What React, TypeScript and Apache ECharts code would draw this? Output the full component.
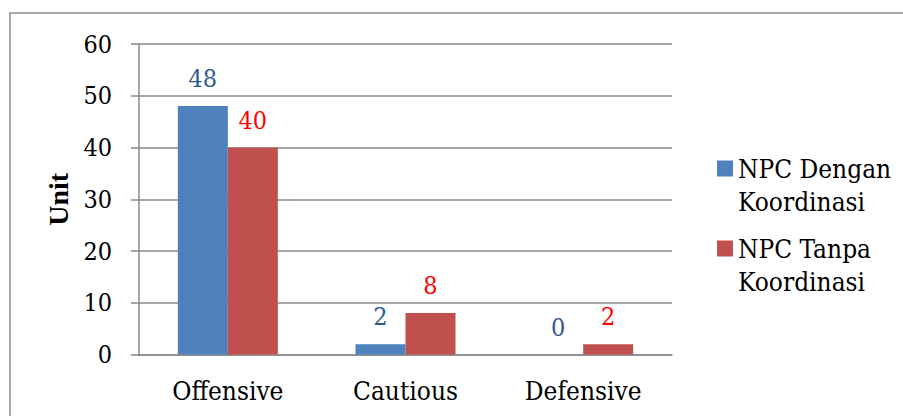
import React, { useEffect, useRef } from "react";
import * as echarts from "echarts";

const categories = ["Offensive", "Cautious", "Defensive"];
const seriesNames = ["NPC Dengan Koordinasi", "NPC Tanpa Koordinasi"];
const withCoordination = [48, 2, 0];
const withoutCoordination = [40, 8, 2];
const yTicks = { min: 0, max: 60, interval: 10 };

const FONT = "DejaVu Serif Condensed";
const BOLD_FONT = "Liberation Serif";

export default function App() {
  const ref = useRef<HTMLDivElement>(null);
  useEffect(() => {
    if (!ref.current) return;
    const chart = echarts.init(ref.current, null, { renderer: "svg" });
    const legendIcon = "path://M0,0L16,0L16,16L0,16Z M0,49L0.001,49";
    chart.setOption({
      animation: false,
      backgroundColor: "#ffffff",
      textStyle: { fontFamily: FONT },
      graphic: [
        {
          type: "rect",
          shape: { x: 10, y: 13, width: 1000, height: 600 },
          style: { fill: "none", stroke: "#8c8c8c", lineWidth: 1.5 },
          silent: true,
        },
      ],
      grid: { left: 139, right: 231, top: 44, bottom: 61.5 },
      legend: {
        orient: "vertical",
        left: 712,
        top: 147,
        itemGap: 14,
        itemWidth: 16,
        itemHeight: 49,
        icon: legendIcon,
        formatter: (name: string) => name.replace(" Koordinasi", "\nKoordinasi"),
        textStyle: { fontFamily: FONT, fontSize: 26, lineHeight: 33, color: "#000" },
        data: seriesNames,
      },
      xAxis: {
        type: "category",
        data: categories,
        axisLine: { show: true, lineStyle: { color: "#898989", width: 1.5 } },
        axisTick: { show: false },
        axisLabel: { fontFamily: FONT, fontSize: 26, color: "#000", margin: 23 },
      },
      yAxis: {
        type: "value",
        min: yTicks.min,
        max: yTicks.max,
        interval: yTicks.interval,
        name: "Unit",
        nameLocation: "middle",
        nameGap: 62,
        nameTextStyle: { fontFamily: BOLD_FONT, fontSize: 28, fontWeight: "bold", color: "#000" },
        axisLine: { show: true, lineStyle: { color: "#898989", width: 1.5 } },
        axisTick: { show: true, length: 8, lineStyle: { color: "#898989", width: 1.5 } },
        splitLine: { show: true, lineStyle: { color: "#898989", width: 1.5 } },
        axisLabel: { fontFamily: FONT, fontSize: 25, color: "#000", margin: 27 },
      },
      series: [
        {
          name: seriesNames[0],
          type: "bar",
          data: withCoordination,
          barWidth: 50,
          barGap: "0%",
          itemStyle: { color: "#4F81BD" },
          label: {
            show: true,
            position: "top",
            distance: 15,
            fontFamily: FONT,
            fontSize: 25,
            color: "#2E5A8E",
          },
        },
        {
          name: seriesNames[1],
          type: "bar",
          data: withoutCoordination,
          barWidth: 50,
          barGap: "0%",
          itemStyle: { color: "#C0504D" },
          label: {
            show: true,
            position: "top",
            distance: 15,
            fontFamily: FONT,
            fontSize: 25,
            color: "#FF0000",
          },
        },
      ],
    });
    return () => chart.dispose();
  }, []);
  return (
    <div
      ref={ref}
      style={{ position: "fixed", left: 0, top: 0, width: 903, height: 416 }}
    />
  );
}
